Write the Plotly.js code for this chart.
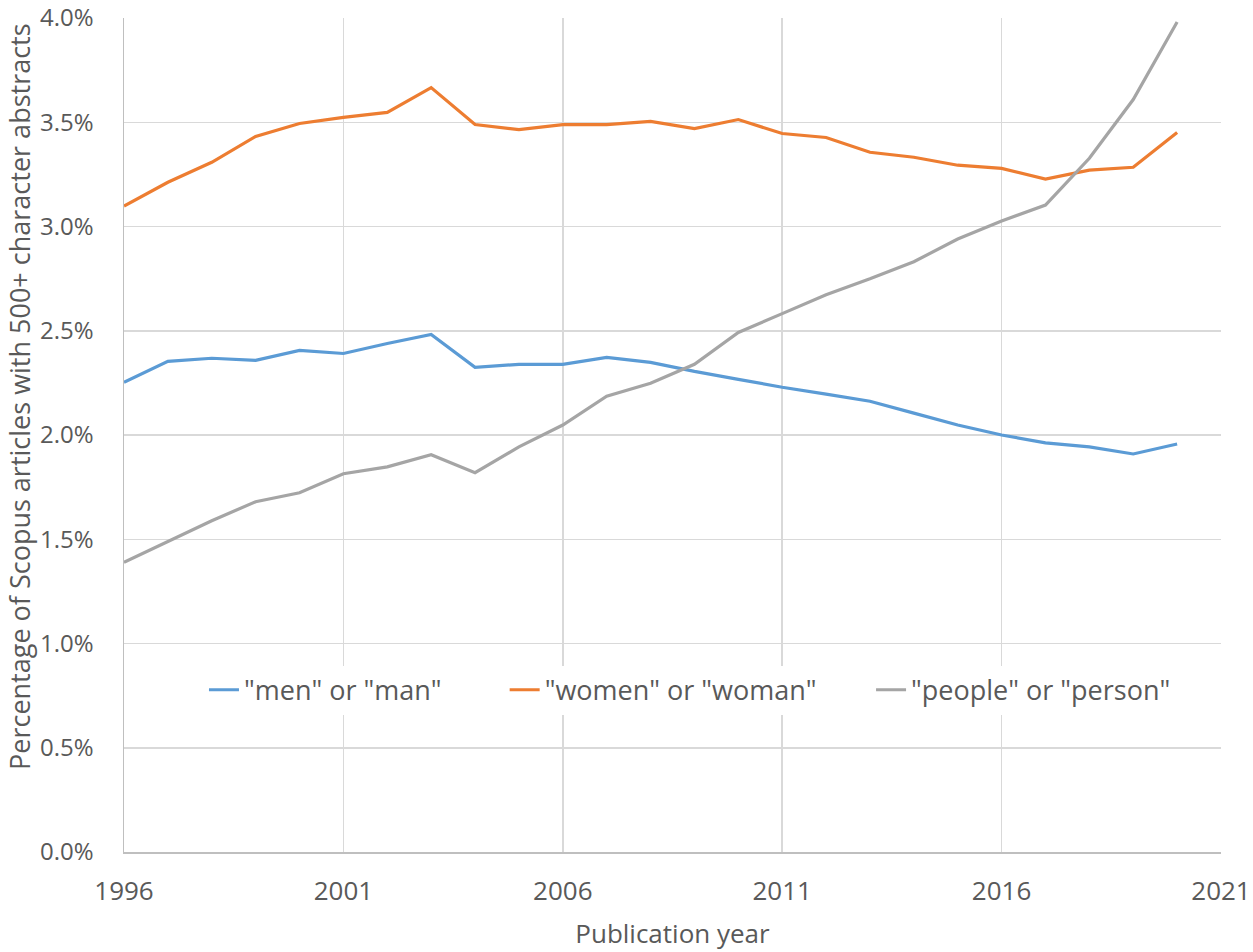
<!DOCTYPE html>
<html>
<head>
<meta charset="utf-8">
<script src="https://cdn.plot.ly/plotly-3.0.1.min.js"></script>
<style>html,body{margin:0;padding:0;background:#fff;}#chart{width:1253px;height:952px;}</style>
</head>
<body>
<div id="chart"></div>
<script>
var years = [1996,1997,1998,1999,2000,2001,2002,2003,2004,2005,2006,2007,2008,2009,2010,2011,2012,2013,2014,2015,2016,2017,2018,2019,2020];
var menMan = [2.253,2.353,2.368,2.358,2.406,2.391,2.439,2.482,2.325,2.339,2.339,2.372,2.348,2.305,2.267,2.229,2.196,2.162,2.105,2.048,2.000,1.962,1.943,1.909,1.957];
var womenWoman = [3.098,3.212,3.308,3.432,3.494,3.523,3.547,3.666,3.489,3.465,3.489,3.489,3.504,3.470,3.513,3.446,3.427,3.356,3.332,3.294,3.279,3.227,3.270,3.284,3.451];
var peoplePerson = [1.389,1.489,1.589,1.680,1.723,1.814,1.847,1.905,1.819,1.943,2.048,2.186,2.248,2.339,2.492,2.582,2.673,2.749,2.831,2.940,3.026,3.103,3.327,3.609,3.981];
var seriesNames = ['"men" or "man"', '"women" or "woman"', '"people" or "person"'];
var xTitle = 'Publication year';
var yTitle = 'Percentage of Scopus articles with 500+ character abstracts';

var font = '"Open Sans", "Noto Sans", sans-serif';
var txt = '#595959';
function tr(y, name, color, leg){
  return {x: years, y: y, name: name, type: 'scatter', mode: 'lines',
          line: {color: color, width: 3.2}, legend: leg};
}
var data = [
  tr(menMan, seriesNames[0], '#5B9BD5', 'legend'),
  tr(womenWoman, seriesNames[1], '#ED7D31', 'legend2'),
  tr(peoplePerson, seriesNames[2], '#A5A5A5', 'legend3')
];
function leg(x){
  return {orientation: 'h', x: x, xanchor: 'left', y: 0.194, yanchor: 'middle',
          bgcolor: '#fff', font: {size: 27, color: txt}};
}
var layout = {
  width: 1253, height: 952,
  margin: {l: 124, r: 32, t: 18, b: 100},
  paper_bgcolor: '#fff', plot_bgcolor: '#fff',
  font: {family: font, color: txt, size: 24},
  showlegend: true,
  legend: leg(0.0729),
  legend2: leg(0.347),
  legend3: leg(0.681),
  xaxis: {range: [1996, 2021], tickmode: 'linear', tick0: 1996, dtick: 5,
          showgrid: true, gridcolor: '#D9D9D9', gridwidth: 1.5,
          zeroline: false, showline: true, linecolor: '#BFBFBF', linewidth: 1.5,
          ticks: '', ticklabelstandoff: 15, ticklabeloverflow: 'allow',
          tickfont: {size: 26, color: txt},
          title: {text: xTitle, font: {size: 26, color: txt}, standoff: 18}},
  yaxis: {range: [0, 4], tickmode: 'linear', tick0: 0, dtick: 0.5,
          tickformat: '.1f', ticksuffix: '%',
          showgrid: true, gridcolor: '#D9D9D9', gridwidth: 1.5,
          zeroline: false, showline: true, linecolor: '#BFBFBF', linewidth: 1.5,
          ticks: '', ticklabelstandoff: 24, ticklabeloverflow: 'allow',
          tickfont: {size: 24, color: txt}},
  annotations: [{text: yTitle, textangle: -90, xref: 'paper', yref: 'paper',
                 x: -0.0948, y: 0.5456, xanchor: 'center', yanchor: 'middle',
                 showarrow: false, font: {size: 27, color: txt}}],
  hovermode: false
};
Plotly.newPlot('chart', data, layout, {displayModeBar: false, staticPlot: true});
</script>
</body>
</html>
